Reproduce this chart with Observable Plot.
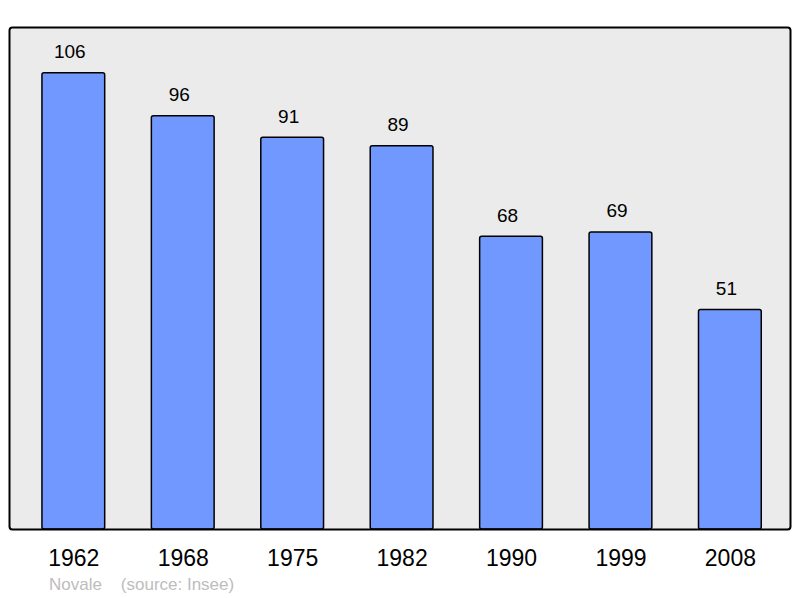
<!DOCTYPE html>
<html>
<head>
<meta charset="utf-8">
<script src="https://cdn.jsdelivr.net/npm/d3@7"></script>
<script src="https://cdn.jsdelivr.net/npm/@observablehq/plot@0.6"></script>
<style>
  html, body { margin: 0; padding: 0; background: #fff; }
  #wrap { position: relative; width: 800px; height: 598px; font-family: "Liberation Sans", Arial, sans-serif; }
  #caption { position: absolute; left: 49px; top: 575.8px; font-size: 17px; line-height: 17px; color: #bdbdbd; white-space: pre; }
</style>
</head>
<body>
<div id="wrap"></div>
<script>
const years = ["1962", "1968", "1975", "1982", "1990", "1999", "2008"];
const population = [106, 96, 91, 89, 68, 69, 51];
const town = "Novale";
const source = "(source: Insee)";

const data = years.map((year, i) => ({year, value: population[i]}));
const yMax = d3.max(population) * 1.1;

const chart = Plot.plot({
  width: 800,
  height: 572,
  marginTop: 27,
  marginBottom: 43,
  marginLeft: 9,
  marginRight: 10,
  style: {fontFamily: "Liberation Sans, Arial, sans-serif", color: "#000", background: "#fff"},
  x: {domain: years, round: false, paddingInner: 0.4265, paddingOuter: 0.2133, insetLeft: 9.6, insetRight: 5.4, label: null},
  y: {domain: [0, yMax], label: null},
  marks: [
    Plot.frame({fill: "#ebebeb", stroke: "none"}),
    Plot.barY(data, {x: "year", y: "value", fill: "#7198ff", stroke: "#000", strokeWidth: 1.5, rx: 2}),
    Plot.text(data, {x: "year", y: "value", text: d => String(d.value), lineAnchor: "bottom", dy: -15, dx: -4, fontSize: 19, fill: "#000"}),
    Plot.frame({stroke: "#000", strokeWidth: 2, rx: 3}),
    Plot.axisX({tickSize: 0, tickPadding: 19.8, fontSize: 23, fill: "#000"}),
    Plot.axisY({ticks: []})
  ]
});
document.getElementById("wrap").appendChild(chart);
const cap = document.createElement("div");
cap.id = "caption";
cap.textContent = town + "    " + source;
document.getElementById("wrap").appendChild(cap);
</script>
</body>
</html>
